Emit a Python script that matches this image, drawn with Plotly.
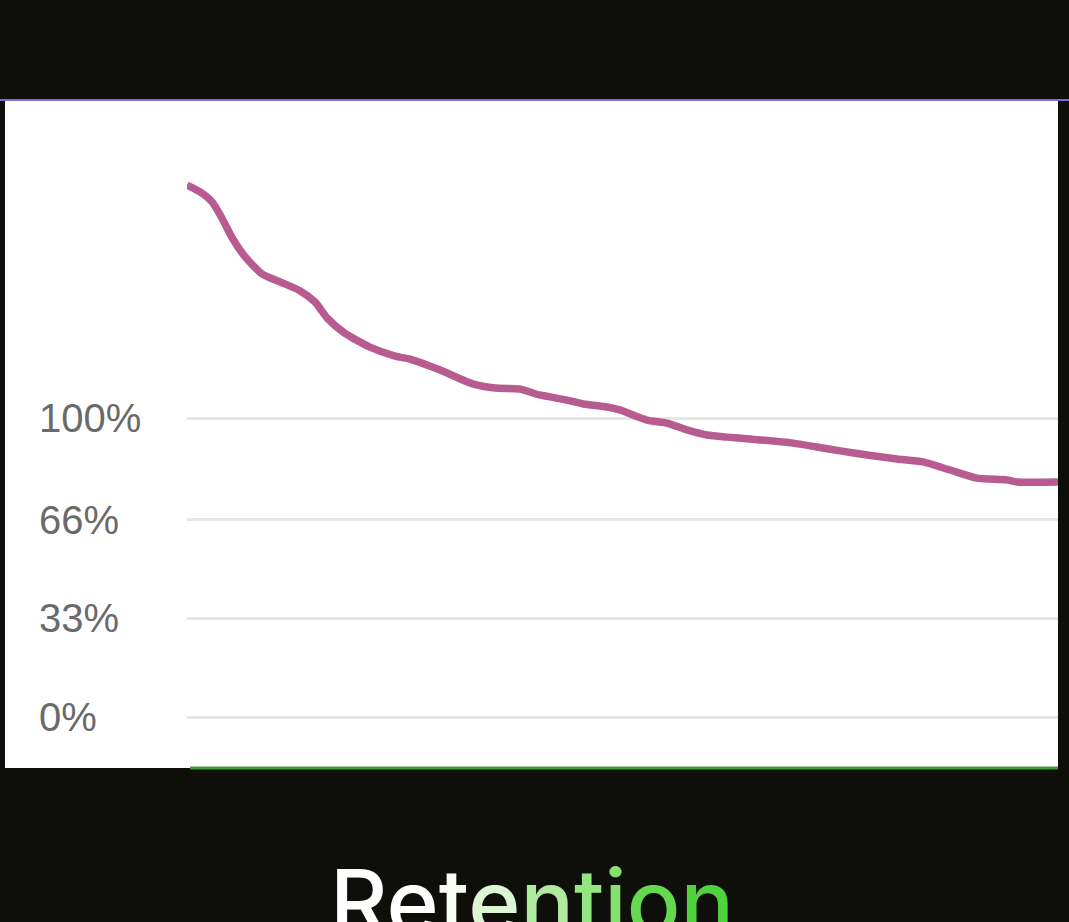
import plotly.graph_objects as go

# Data: position in video (%) vs audience retention (%)
time_pct = [0, 1.5, 2.9, 4.0, 5.2, 6.7, 8.6, 10.7, 13.0, 14.7, 16.1, 18.1, 21.0, 23.9, 25.6,
            29.0, 32.8, 35.4, 38.2, 40.5, 43.6, 45.5, 48.2, 49.7, 52.8, 55.1, 57.4, 59.7,
            62.0, 64.6, 69.6, 72.3, 75.0, 78.1, 81.5, 84.5, 87.6, 90.7, 94.1, 95.3, 100]
retention = [177.9, 175.6, 172.2, 166.9, 160.2, 153.8, 148.2, 145.5, 142.5, 138.8, 133.4,
             128.4, 123.7, 120.7, 119.7, 116.1, 111.4, 110.0, 109.7, 107.7, 106.0, 104.7,
             103.7, 102.7, 99.3, 98.3, 96.0, 94.3, 93.6, 93.0, 91.6, 90.3, 89.0, 87.6, 86.3,
             85.3, 82.6, 79.9, 79.3, 78.6, 78.6]
tick_vals = [0, 33, 66, 100]
tick_text = ["0%", "33%", "66%", "100%"]
title_text = "Retention"
title_colors = ["#ffffff", "#ffffff", "#f6fcf4", "#dcf5d5", "#aeeb9f", "#94e681",
                "#84e070", "#64d94e", "#50d23d"]

W, H = 1069, 922
L, R, T, B = 187, 11, 100, 154
pw = W - L - R
ph = H - T - B

def px_x(p):
    return (p - L) / pw

def px_y(p):
    return (H - B - p) / ph

BG = "#0e0f0b"

fig = go.Figure()
fig.add_trace(go.Scatter(
    x=time_pct, y=retention, mode="lines",
    line=dict(color="#b85b91", width=7.5, shape="spline", smoothing=0.6),
    hoverinfo="skip", showlegend=False,
))

shapes = [
    # white panel
    dict(type="rect", xref="paper", yref="paper", x0=px_x(5), x1=px_x(1058),
         y0=px_y(768), y1=px_y(100), fillcolor="white", line=dict(width=0), layer="below"),
    # purple top edge
    dict(type="line", xref="paper", yref="paper", x0=px_x(0), x1=px_x(W),
         y0=px_y(100), y1=px_y(100), line=dict(color="#7b6cd6", width=2)),
    # green bottom edge
    dict(type="line", xref="paper", yref="paper", x0=px_x(190), x1=px_x(1058),
         y0=px_y(768), y1=px_y(768), line=dict(color="#3e9c30", width=3)),
]

annotations = []
for v, t in zip(tick_vals, tick_text):
    annotations.append(dict(
        x=px_x(37), xref="paper", y=v, yref="y", text=t, showarrow=False,
        xanchor="left", yanchor="middle",
        font=dict(family="Liberation Sans, Arial, sans-serif", size=40, color="#6a6a6a"),
    ))

title_html = "".join(f"<span style='color:{c}'>{ch}</span>" for ch, c in zip(title_text, title_colors))
annotations.append(dict(
    x=px_x(532), xref="paper", y=px_y(846), yref="paper", text=title_html,
    showarrow=False, xanchor="center", yanchor="top",
    font=dict(family="Inter, Roboto, sans-serif", size=89, color="white", weight=500),
))

fig.update_layout(
    width=W, height=H,
    margin=dict(l=L, r=R, t=T, b=B, pad=0),
    paper_bgcolor=BG, plot_bgcolor="white",
    shapes=shapes, annotations=annotations,
    xaxis=dict(range=[0, 100], showgrid=False, zeroline=False, showticklabels=False,
               showline=False, ticks=""),
    yaxis=dict(range=[(717 - 768) / 2.99, (717 - 100) / 2.99], tickvals=tick_vals,
               showticklabels=False, showgrid=True, gridcolor="#e6e6e6", gridwidth=3,
               zeroline=False, showline=False, ticks=""),
)

fig.write_html(
    "out.html",
    config={"displayModeBar": False},
    post_script="document.body.style.margin='0';document.body.style.overflow='hidden';"
                "document.body.style.background='" + BG + "';",
)
